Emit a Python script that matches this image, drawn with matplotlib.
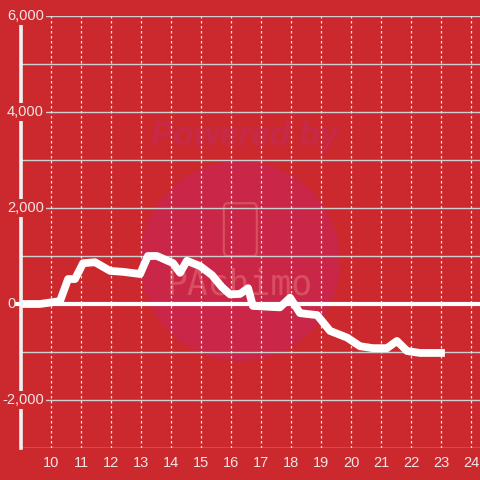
import matplotlib
matplotlib.use("Agg")
import matplotlib.pyplot as plt
from matplotlib.patches import Ellipse, FancyBboxPatch
import matplotlib.transforms as mtransforms

# Data (hour of day, value)
hours = [9.0, 9.63, 10.3, 10.57, 10.8, 11.07, 11.47, 11.97, 12.4, 12.97, 13.23, 13.53,
         14.07, 14.3, 14.53, 14.97, 15.37, 15.7, 15.97, 16.3, 16.57, 16.73, 17.63, 17.97,
         18.3, 18.7, 18.87, 19.3, 19.87, 20.3, 20.73, 21.2, 21.53, 21.87, 22.3, 23.13]
values = [0, 0, 60, 520, 520, 850, 870, 690, 670, 625, 1000, 1000,
          850, 650, 900, 790, 600, 350, 200, 210, 330, -40, -70, 130,
          -190, -220, -230, -560, -700, -880, -920, -920, -770, -980, -1020, -1020]

x_ticks = list(range(10, 25))
y_ticks = [-2000, 2000, 4000, 6000]
y_tick_labels = ["-2,000", "2,000", "4,000", "6,000"]
y_grid = list(range(-3000, 6001, 1000))

BG = "#cc292e"
TXT = "#f3e4e4"

plt.rcParams['font.family'] = ['Liberation Sans', 'DejaVu Sans']

fig = plt.figure(figsize=(4.8, 4.8), dpi=100, facecolor=BG)
ax = fig.add_axes([21/480, 1-448/480, 459/480, 432/480])
ax.set_facecolor(BG)
ax.set_xlim(9, 24.3)
ax.set_ylim(-3000, 6000)

# watermark
ax.add_patch(Ellipse((16.3, 896), 6.67, 4167, transform=ax.transData,
                     facecolor="#c92648", edgecolor="none", zorder=0.5))
ax.text(16.45, 3500, "Powered by", ha="center", va="center", fontsize=24,
        fontweight="bold", style="italic", color="#c72a48", zorder=0.6)
ax.text(16.3, 400, "PAchimo", ha="center", va="center", fontsize=25,
        color="#d6505f", zorder=0.6, family="DejaVu Sans Mono", fontweight="light")
ax.add_patch(FancyBboxPatch((15.76, 1000), 1.1, 1100,
                            boxstyle="round,pad=0,rounding_size=0.12",
                            facecolor="none", edgecolor="#d6505f", lw=1.6, zorder=0.6,
                            mutation_aspect=1000))

# grid
for yv in y_grid:
    if yv in (-3000, 0):
        continue
    ax.axhline(yv, color="#cfcfcf", lw=1.0, zorder=1)
ax.axhline(-3000, color="#d8d8d8", lw=1.0, zorder=1)
for xv in x_ticks:
    ax.axvline(xv, color="#e6e6e6", lw=0.9, ls=(0, (2, 2)), zorder=1)

ax.plot([8.87, 24.3], [0, 0], color="white", lw=3.0, zorder=2, clip_on=False)

ax.plot(hours, values, color="white", lw=5.6, solid_joinstyle="round",
        solid_capstyle="butt", zorder=3)

for s in ax.spines.values():
    s.set_visible(False)
ax.set_xticks(x_ticks)
ax.set_xticklabels([str(v) for v in x_ticks], color=TXT, fontsize=10.5)
ax.tick_params(axis="x", length=0, pad=6)
ax.set_yticks([])

# left spine
ax.plot([9, 9], [-3000, 5830], color="#f2f2f2", lw=2.6, zorder=4, clip_on=False)

trans = mtransforms.blended_transform_factory(ax.transAxes, ax.transData)
for yv, lab in zip(y_ticks, y_tick_labels):
    ax.text(22/459 + 0.002, yv, lab, transform=trans, ha="right", va="center",
            fontsize=10.5, color=TXT, zorder=5, clip_on=False,
            bbox=dict(facecolor=BG, edgecolor="none", pad=1.5))
ax.text(-9/459, 0, "0", transform=trans, ha="center", va="center",
        fontsize=10.5, color=TXT, zorder=5, clip_on=False)

fig.savefig("out.png", dpi=100, facecolor=BG)
